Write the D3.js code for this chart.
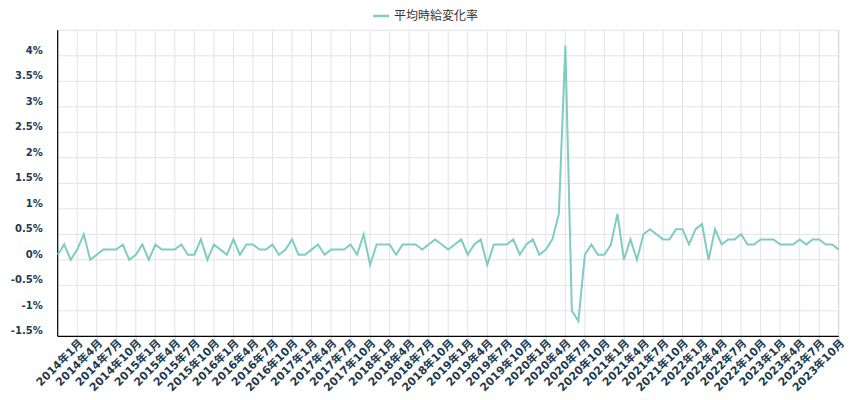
<!DOCTYPE html>
<html>
<head>
<meta charset="utf-8">
<script src="https://cdn.jsdelivr.net/npm/d3@7/dist/d3.min.js"></script>
<style>
  body { margin: 0; background: #fff; }
</style>
</head>
<body>
<div id="chart"></div>
<script>
// monthly categories, Oct 2013 .. Oct 2023
const startYear = 2013, startMonth = 10, monthCount = 121;
const categories = [];
for (let i = 0; i < monthCount; i++) {
  const m = startMonth - 1 + i;
  categories.push(`${startYear + Math.floor(m / 12)}年${(m % 12) + 1}月`);
}

// 平均時給変化率 (%)
const hourlyWageChange = [
  0.1, 0.3, 0.0, 0.2, 0.5, 0.0, 0.1, 0.2, 0.2, 0.2, 0.3, 0.0,
  0.1, 0.3, 0.0, 0.3, 0.2, 0.2, 0.2, 0.3, 0.1, 0.1, 0.4, 0.0,
  0.3, 0.2, 0.1, 0.4, 0.1, 0.3, 0.3, 0.2, 0.2, 0.3, 0.1, 0.2,
  0.4, 0.1, 0.1, 0.2, 0.3, 0.1, 0.2, 0.2, 0.2, 0.3, 0.1, 0.5,
  -0.1, 0.3, 0.3, 0.3, 0.1, 0.3, 0.3, 0.3, 0.2, 0.3, 0.4, 0.3,
  0.2, 0.3, 0.4, 0.1, 0.3, 0.4, -0.1, 0.3, 0.3, 0.3, 0.4, 0.1,
  0.3, 0.4, 0.1, 0.2, 0.4, 0.9, 4.2, -1.0, -1.2, 0.1, 0.3, 0.1,
  0.1, 0.3, 0.9, 0.0, 0.4, 0.0, 0.5, 0.6, 0.5, 0.4, 0.4, 0.6,
  0.6, 0.3, 0.6, 0.7, 0.0, 0.6, 0.3, 0.4, 0.4, 0.5, 0.3, 0.3,
  0.4, 0.4, 0.4, 0.3, 0.3, 0.3, 0.4, 0.3, 0.4, 0.4, 0.3, 0.3,
  0.2
];

const yTickValues = [-1.5, -1, -0.5, 0, 0.5, 1, 1.5, 2, 2.5, 3, 3.5, 4];
const seriesName = "平均時給変化率";

const width = 850, height = 400;
const margin = { top: 30.3, right: 11.3, bottom: 63.7, left: 57.7 };
const lineColor = "#7fccc3";
const labelColor = "#1e3a4f";
const font = "'DejaVu Sans', 'Noto Sans CJK JP', sans-serif";

const svg = d3.select("#chart")
  .append("svg")
  .attr("width", width)
  .attr("height", height);

const x = d3.scalePoint()
  .domain(categories)
  .range([margin.left, width - margin.right]);

const y = d3.scaleLinear()
  .domain([-1.5, 4.5])
  .range([height - margin.bottom, margin.top]);

// every third month gets a tick/label (first one hidden)
const shownCats = categories.filter((c, i) => i % 3 === 0 && i > 0);

// horizontal grid
svg.append("g")
  .selectAll("line")
  .data(yTickValues.slice(1).concat([4.5]))
  .join("line")
  .attr("x1", margin.left)
  .attr("x2", width - margin.right)
  .attr("y1", d => y(d))
  .attr("y2", d => y(d))
  .attr("stroke", "#e3e3e3")
  .attr("stroke-width", 1);

// vertical grid
svg.append("g")
  .selectAll("line")
  .data(shownCats)
  .join("line")
  .attr("x1", d => x(d))
  .attr("x2", d => x(d))
  .attr("y1", margin.top)
  .attr("y2", height - margin.bottom)
  .attr("stroke", d => d === categories[categories.length - 1] ? "#cfcfcf" : "#e3e3e3")
  .attr("stroke-width", 1);

// x axis: ticks + rotated labels
const xAxis = svg.append("g")
  .attr("transform", `translate(0,${height - margin.bottom})`)
  .call(d3.axisBottom(x).tickValues(shownCats).tickSize(9).tickSizeOuter(0));
xAxis.select(".domain").remove();
xAxis.selectAll(".tick line").attr("stroke", "#c4d4e8");
xAxis.selectAll(".tick text")
  .attr("font-family", font)
  .attr("font-size", 11)
  .attr("font-weight", "bold")
  .attr("fill", labelColor)
  .attr("text-anchor", "end")
  .attr("dy", "0.35em")
  .attr("transform", "translate(3,5) rotate(-45)")
  .attr("x", 0)
  .attr("y", 0);

// y axis labels (sit a little above their grid line)
const yAxis = svg.append("g")
  .attr("transform", `translate(${margin.left},0)`)
  .call(d3.axisLeft(y).tickValues(yTickValues).tickSize(0).tickPadding(15)
    .tickFormat(d => d + "%"));
yAxis.select(".domain").remove();
yAxis.selectAll(".tick text")
  .attr("font-family", font)
  .attr("font-size", 10)
  .attr("font-weight", "bold")
  .attr("fill", labelColor)
  .attr("dy", "-0.25em");

// axis lines
svg.append("line")
  .attr("x1", margin.left).attr("x2", margin.left)
  .attr("y1", margin.top).attr("y2", height - margin.bottom)
  .attr("stroke", "#000").attr("stroke-width", 1.2);
svg.append("line")
  .attr("x1", margin.left).attr("x2", width - margin.right)
  .attr("y1", height - margin.bottom).attr("y2", height - margin.bottom)
  .attr("stroke", "#000").attr("stroke-width", 1.2);

// series line
const line = d3.line()
  .x((d, i) => x(categories[i]))
  .y(d => y(d));

svg.append("path")
  .datum(hourlyWageChange)
  .attr("fill", "none")
  .attr("stroke", lineColor)
  .attr("stroke-width", 2)
  .attr("stroke-linejoin", "miter")
  .attr("d", line);

// legend
const legend = svg.append("g").attr("transform", "translate(373,16)");
legend.append("line")
  .attr("x1", 0).attr("x2", 16)
  .attr("stroke", lineColor)
  .attr("stroke-width", 2.5);
legend.append("text")
  .attr("x", 21)
  .attr("dy", "0.35em")
  .attr("font-family", "'Noto Sans CJK JP', sans-serif")
  .attr("font-size", 12)
  .attr("fill", "#333")
  .text(seriesName);
</script>
</body>
</html>
